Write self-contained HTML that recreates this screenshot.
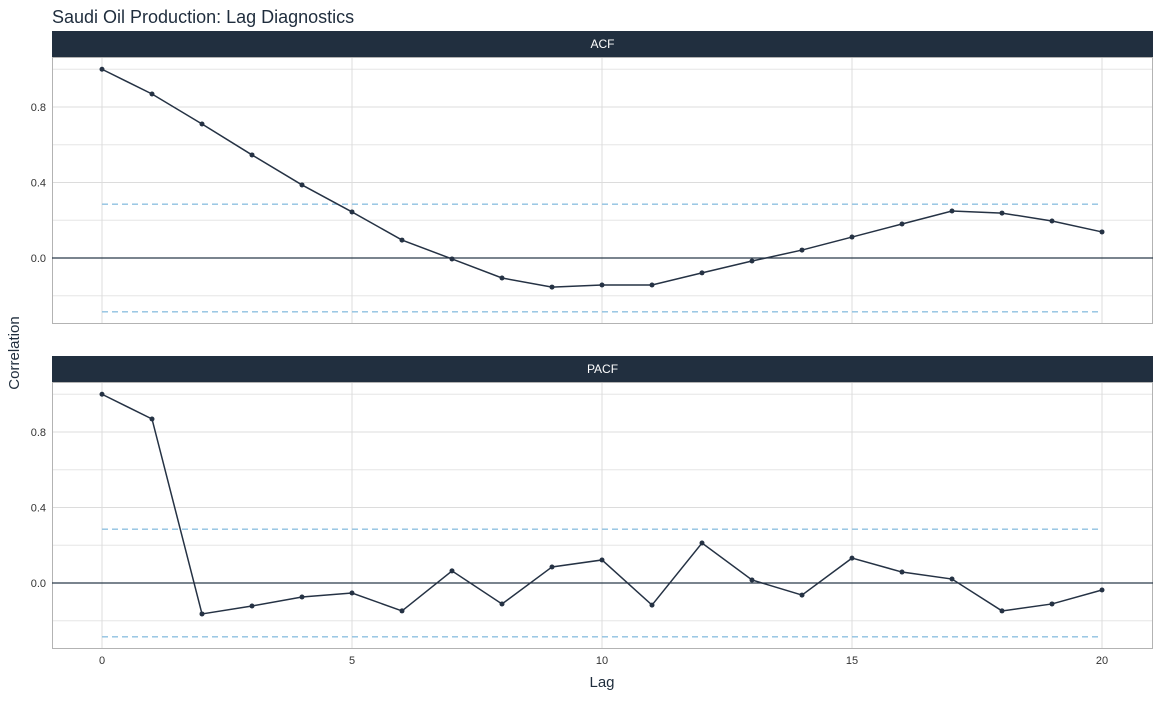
<!DOCTYPE html>
<html><head><meta charset="utf-8"><style>
body{margin:0;background:#fff;font-family:"Liberation Sans",sans-serif}
</style></head><body>
<svg id="chart" width="1161" height="696" xmlns="http://www.w3.org/2000/svg" font-family="Liberation Sans, sans-serif">
<text x="52" y="23" font-size="18" fill="#1f2d3d">Saudi Oil Production: Lag Diagnostics</text>
<text transform="translate(19,353) rotate(-90)" text-anchor="middle" font-size="15" fill="#1f2d3d">Correlation</text>
<text x="602" y="687" text-anchor="middle" font-size="15" fill="#1f2d3d">Lag</text>
<g id="panels"></g>
</svg>
<script>
const lags=[0,1,2,3,4,5,6,7,8,9,10,11,12,13,14,15,16,17,18,19,20];
const acfValues=[1.0,0.869,0.71,0.546,0.387,0.244,0.095,-0.005,-0.106,-0.154,-0.143,-0.143,-0.079,-0.016,0.042,0.111,0.18,0.249,0.238,0.196,0.138];
const pacfValues=[1.0,0.869,-0.164,-0.122,-0.074,-0.053,-0.148,0.064,-0.111,0.085,0.122,-0.117,0.212,0.016,-0.064,0.132,0.058,0.021,-0.148,-0.111,-0.037];
const xTicks=[0,5,10,15,20];
const yTicks=[0,0.4,0.8];
const yMinor=[-0.2,0.2,0.6,1.0];
const ciBound=0.285;
const NS="http://www.w3.org/2000/svg";
const g=document.getElementById('panels');
function mk(t,a,p){const e=document.createElementNS(NS,t);for(const k in a)e.setAttribute(k,a[k]);(p||g).appendChild(e);return e;}
const x=v=>102+v*50;
const L=52,R=1153;
function panel(name,top,vals){
  const strip=top, pTop=top+26, pBot=pTop+267, zero=pTop+201;
  const y=v=>zero-v*188.75;
  const s=mk('rect',{x:L,y:strip,width:R-L,height:26,fill:'#212f3f'});
  
  
  const st=mk('text',{x:(L+R)/2,y:strip+17,'text-anchor':'middle','font-size':12,fill:'#fff'});
  st.textContent=name;
  
  
  yMinor.forEach(v=>{const l=mk('line',{x1:L,x2:R,y1:y(v),y2:y(v),stroke:'#e6e6e6','stroke-width':1});
    
    });
  yTicks.forEach(v=>{const l=mk('line',{x1:L,x2:R,y1:y(v),y2:y(v),stroke:'#dcdcdc','stroke-width':1});
    
    
    const t=mk('text',{x:46,y:y(v)+4,'text-anchor':'end','font-size':11,fill:'#333'});
    t.textContent=v.toFixed(1);
    
    });
  xTicks.forEach(v=>{const l=mk('line',{x1:x(v),x2:x(v),y1:pTop,y2:pBot,stroke:'#dcdcdc','stroke-width':1});
    
    });
  const b=mk('rect',{x:L+0.5,y:pTop+0.5,width:R-L-1,height:pBot-pTop-1,fill:'none',stroke:'#b3b3b3'});
  
  
  const z=mk('line',{x1:L,x2:R,y1:y(0),y2:y(0),stroke:'#2a3a4a','stroke-width':1.3});
  
  
  [ciBound,-ciBound].forEach((v,i)=>{const l=mk('line',{x1:x(0),x2:x(20),y1:y(v),y2:y(v),stroke:'#8fc1e0','stroke-width':1.3,'stroke-dasharray':'6,4'});
    
    });
  const pl=mk('polyline',{points:lags.map((l,i)=>x(l)+','+y(vals[i])).join(' '),fill:'none',stroke:'#253244','stroke-width':1.5});
  
  
  lags.forEach((l,i)=>{const c=mk('circle',{cx:x(l),cy:y(vals[i]),r:2.5,fill:'#253244'});
    
    });
}
panel('ACF',31,acfValues);
panel('PACF',356,pacfValues);
xTicks.forEach(v=>{const t=mk('text',{x:x(v),y:664,'text-anchor':'middle','font-size':11,fill:'#333'});
  t.textContent=v;
  
  });
</script>
</body></html>
